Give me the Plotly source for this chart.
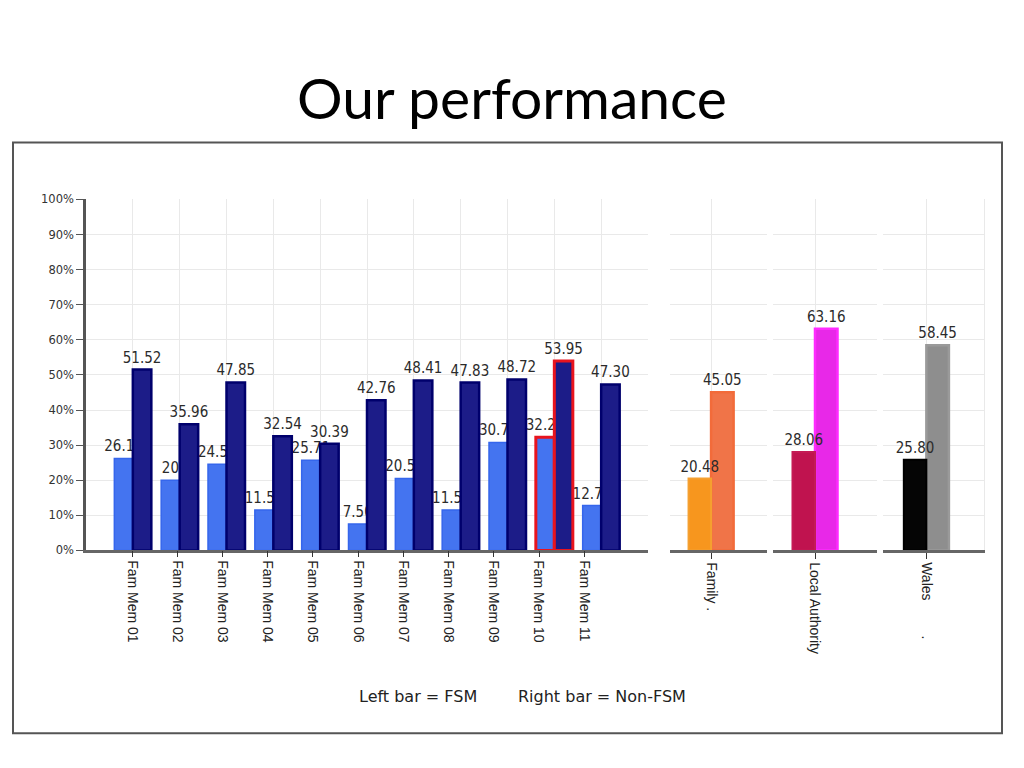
import plotly.graph_objects as go

# ---------------- data ----------------
members = ["Fam Mem 01", "Fam Mem 02", "Fam Mem 03", "Fam Mem 04", "Fam Mem 05",
           "Fam Mem 06", "Fam Mem 07", "Fam Mem 08", "Fam Mem 09", "Fam Mem 10",
           "Fam Mem 11"]
fsm_values = [26.19, 20, 24.53, 11.54, 25.71, 7.50, 20.51, 11.54, 30.77, 32.26, 12.77]
fsm_labels = ["26.19", "20", "24.53", "11.54", "25.71", "7.50", "20.51", "11.54",
              "30.77", "32.26", "12.77"]
nonfsm_values = [51.52, 35.96, 47.85, 32.54, 30.39, 42.76, 48.41, 47.83, 48.72, 53.95, 47.30]
nonfsm_labels = ["51.52", "35.96", "47.85", "32.54", "30.39", "42.76", "48.41", "47.83",
                 "48.72", "53.95", "47.30"]
highlight_member = "Fam Mem 10"

regions = ["Family .", "Local Authority", "Wales" + "\u00a0" * 9 + "."]
region_fsm = [20.48, 28.06, 25.80]
region_fsm_labels = ["20.48", "28.06", "25.80"]
region_nonfsm = [45.05, 63.16, 58.45]
region_nonfsm_labels = ["45.05", "63.16", "58.45"]

title_text = "Our performance"
legend_left = "Left bar = FSM"
legend_right = "Right bar = Non-FSM"

# ---------------- styling ----------------
FW, FH = 1008, 744      # figure size (fits inside the page's default body margin)
OX = 8                  # horizontal page offset of the figure
VY0, VSC = 14.5, 0.9814  # vertical mapping of the captured page


def px_x(p):
    return (p - OX) / FW


def px_y(p):
    return 1 - ((p - VY0) / VSC) / FH


GRID = "#e9e9e9"
AXIS = "#666666"
LABEL_FONT = dict(family="DejaVu Sans Condensed, Liberation Sans Narrow, Liberation Sans, Arial",
                  size=15, color="#2b2b2b")
TICK_FONT = dict(family="Liberation Sans, Arial", size=14, color="#222222")
YTICK_FONT = dict(family="DejaVu Sans, Verdana", size=11.5, color="#333333")
BARGAP = 0.21
BAR_W = (1 - BARGAP) / 2

region_styles = [
    dict(fsm="#F7961E", fsm_line="#F5A030", non="#F07448", non_line="#F26B3A"),
    dict(fsm="#C0134F", fsm_line="#C41A55", non="#E828E8", non_line="#FF2BFF"),
    dict(fsm="#050505", fsm_line="#000000", non="#8E8E8E", non_line="#9A9A9A"),
]
region_domains = [(670, 767), (773, 877), (883, 984)]
region_ranges = [(-0.72, 0.98), (-0.737, 1.088), (-0.76, 1.01)]

fig = go.Figure()

# left panel bars
fsm_line_colors = ["#E8141E" if m == highlight_member else "#3566EC" for m in members]
fsm_line_widths = [3 if m == highlight_member else 1.5 for m in members]
non_line_colors = ["#E8141E" if m == highlight_member else "#00006C" for m in members]
non_line_widths = [3 if m == highlight_member else 2.5 for m in members]

common_bar = dict(textposition="outside", textangle=0, constraintext="none",
                  cliponaxis=False, textfont=LABEL_FONT, showlegend=False, hoverinfo="skip")

fig.add_trace(go.Bar(x=members, y=fsm_values, text=fsm_labels,
                     marker=dict(color="#4474F0", line=dict(color=fsm_line_colors, width=fsm_line_widths)),
                     xaxis="x", yaxis="y", **common_bar))
fig.add_trace(go.Bar(x=members, y=nonfsm_values, text=nonfsm_labels,
                     marker=dict(color="#1C1C88", line=dict(color=non_line_colors, width=non_line_widths)),
                     xaxis="x", yaxis="y", **common_bar))

# invisible helper carrying the category labels on the label axis
fig.add_trace(go.Scatter(x=members, y=fsm_values, mode="markers", marker=dict(opacity=0),
                         xaxis="x5", yaxis="y", showlegend=False, hoverinfo="skip"))

# right panels (Non-FSM drawn first so the FSM labels sit on top, as in the original)
for i, (name, st) in enumerate(zip(regions, region_styles)):
    ax = str(i + 2)
    fig.add_trace(go.Bar(x=[name], y=[region_nonfsm[i]], text=[region_nonfsm_labels[i]],
                         offset=0, width=BAR_W,
                         marker=dict(color=st["non"], line=dict(color=st["non_line"], width=2.5)),
                         xaxis="x" + ax, yaxis="y" + ax, **common_bar))
    fig.add_trace(go.Bar(x=[name], y=[region_fsm[i]], text=[region_fsm_labels[i]],
                         offset=-BAR_W, width=BAR_W,
                         marker=dict(color=st["fsm"], line=dict(color=st["fsm_line"], width=2)),
                         xaxis="x" + ax, yaxis="y" + ax, **common_bar))

ydom = [px_y(550), px_y(199)]

layout = dict(
    width=FW, height=FH, margin=dict(l=0, r=0, t=0, b=0),
    paper_bgcolor="white", plot_bgcolor="white",
    barmode="group", bargap=BARGAP, bargroupgap=0, showlegend=False,
    xaxis=dict(domain=[px_x(86), px_x(648)], anchor="y", type="category", range=[-1, 11],
               showticklabels=False, ticks="", showgrid=True, gridcolor=GRID, gridwidth=1,
               showline=True, linecolor=AXIS, linewidth=3, zeroline=False, fixedrange=True),
    xaxis5=dict(overlaying="x", anchor="y", type="category", range=[-1.02, 11.41],
                showticklabels=True, tickangle=90, tickfont=TICK_FONT,
                ticks="outside", ticklen=6, tickcolor="#333", tickwidth=1,
                showgrid=False, showline=False, zeroline=False, fixedrange=True),
    yaxis=dict(domain=ydom, anchor="x", range=[0, 100], dtick=10, ticksuffix="%",
               ticks="outside", ticklen=7, tickcolor="#555", tickwidth=1, tickfont=YTICK_FONT,
               showline=True, linecolor="#555", linewidth=2.5, showgrid=True, gridcolor=GRID,
               zeroline=False, fixedrange=True),
)

for i in range(3):
    ax = str(i + 2)
    d0, d1 = region_domains[i]
    layout["xaxis" + ax] = dict(domain=[px_x(d0), px_x(d1)], anchor="y" + ax, type="category",
                                range=list(region_ranges[i]), tickangle=90, tickfont=TICK_FONT,
                                ticks="outside", ticklen=6, tickcolor="#333", tickwidth=1,
                                showgrid=True, gridcolor=GRID, showline=True, linecolor=AXIS,
                                linewidth=3, zeroline=False, fixedrange=True)
    layout["yaxis" + ax] = dict(domain=ydom, anchor="x" + ax, range=[0, 100], dtick=10,
                                showticklabels=False, ticks="", showgrid=True, gridcolor=GRID,
                                zeroline=False, fixedrange=True,
                                showline=(i == 2), side="right", linecolor=GRID, linewidth=1)

fig.update_layout(**layout)

# title, legend text, frame
fig.add_annotation(text=title_text, xref="paper", yref="paper", x=px_x(511.5), y=px_y(97),
                   xanchor="center", yanchor="middle", showarrow=False,
                   font=dict(family="Lato, Open Sans, sans-serif", size=57, color="#000000"))
fig.add_annotation(text=legend_left, xref="paper", yref="paper", x=px_x(357), y=px_y(696),
                   xanchor="left", yanchor="middle", showarrow=False,
                   font=dict(family="DejaVu Sans, Verdana", size=16, color="#222222"))
fig.add_annotation(text=legend_right, xref="paper", yref="paper", x=px_x(516), y=px_y(696),
                   xanchor="left", yanchor="middle", showarrow=False,
                   font=dict(family="DejaVu Sans, Verdana", size=16, color="#222222"))
fig.add_shape(type="rect", xref="paper", yref="paper",
              x0=px_x(13), x1=px_x(1002), y0=px_y(733), y1=px_y(142),
              line=dict(color="#555555", width=2), fillcolor="rgba(0,0,0,0)", layer="above")

fig.write_html("out.html")
